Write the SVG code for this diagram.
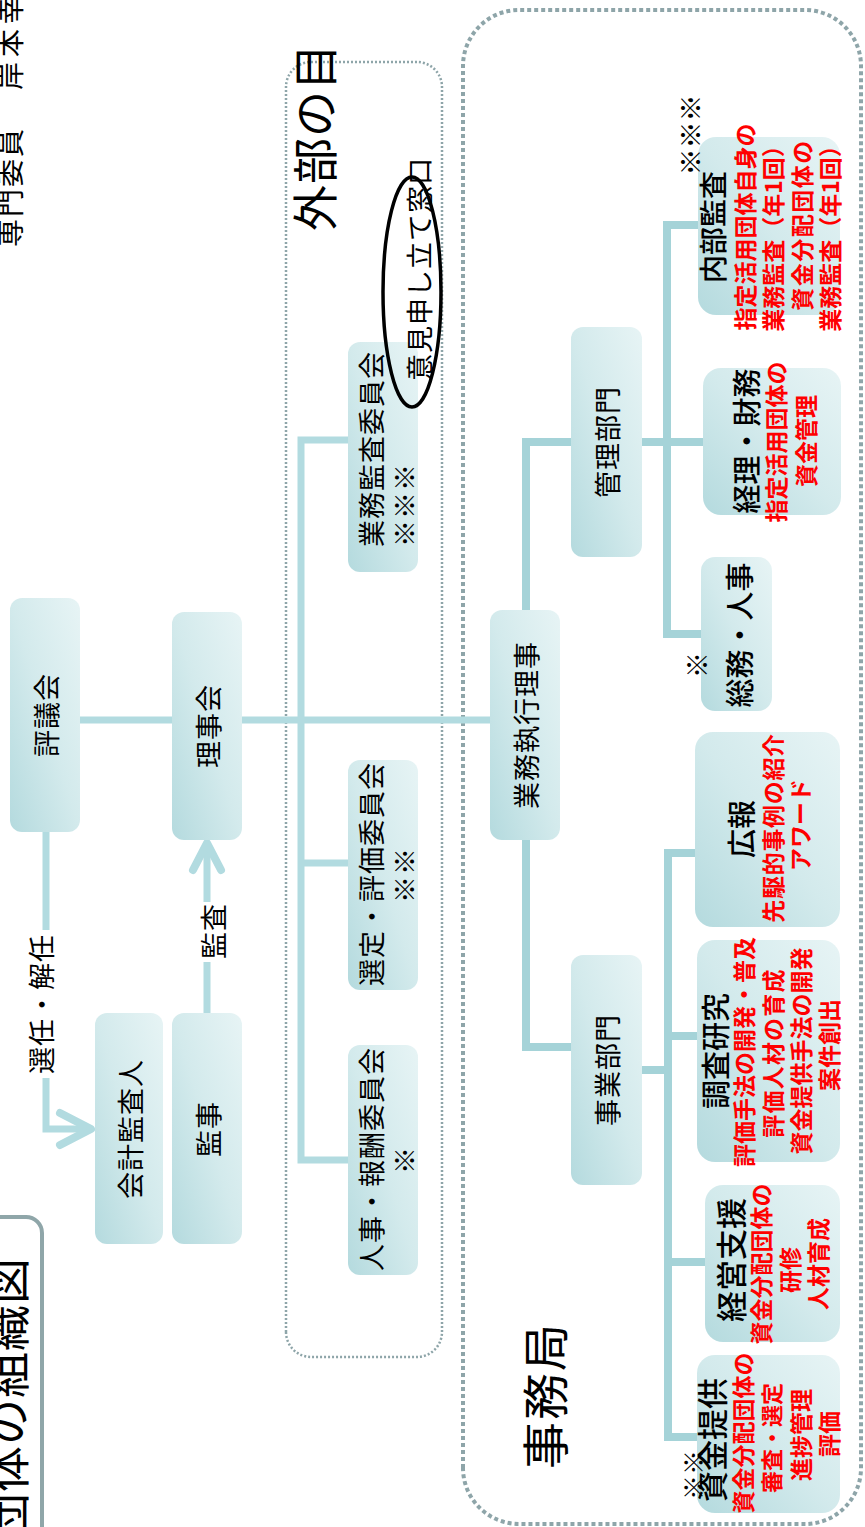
<svg xmlns="http://www.w3.org/2000/svg" width="865" height="1527" viewBox="0 0 865 1527">
<style>
text{font-family:"Noto Sans CJK JP","Noto Sans",sans-serif;dominant-baseline:central;fill:#000}
.n{font-size:27px;text-anchor:middle;letter-spacing:1px}
.s{text-anchor:start}
.h{font-size:29px;text-anchor:middle;font-weight:500}
.r{font-size:23px;text-anchor:middle;fill:#ff0000;font-weight:700}
.box{fill:url(#g);stroke:none}
.c1{fill:none;stroke:#b2dbe0;stroke-width:7}
.c2{fill:none;stroke:#a5d3d8;stroke-width:8}
.ar{fill:none;stroke:#b2dbe0;stroke-width:8;stroke-linecap:round;stroke-linejoin:round}
</style>
<defs>
<linearGradient id="g" x1="0" y1="0" x2="1" y2="1">
<stop offset="0" stop-color="#b4dade"/>
<stop offset="0.5" stop-color="#d3eaec"/>
<stop offset="1" stop-color="#e7f4f5"/>
</linearGradient>
</defs>
<g transform="translate(0,1527) rotate(-90)">
<g id="frames">
<path d="M0 42 H294 A16 16 0 0 0 310 26 V-5" fill="none" stroke="#8fa6a9" stroke-width="4"/>
<text x="270" y="4" style="font-size:46px;text-anchor:end" letter-spacing="1">団体の組織図</text>
<text x="1280" y="9" style="font-size:28px" letter-spacing="2">専門委員</text>
<text x="1437" y="9" style="font-size:28px" letter-spacing="5">岸本幸</text>
<rect x="3" y="463" width="1514" height="398" rx="56" fill="none" stroke="#8ea5a9" stroke-width="4" stroke-dasharray="4 3"/>
<rect x="170" y="286" width="1295" height="156" rx="25" fill="none" stroke="#8ea5a9" stroke-width="2.5" stroke-dasharray="2 2"/>
<text x="1296" y="312" style="font-size:46px" letter-spacing="1">外部の目</text>
<text x="58" y="542" style="font-size:47px" letter-spacing="2">事務局</text>
</g>
<g id="connectors">
<path class="c1" d="M807 80 V490"/>
<path class="c1" d="M1087 348 V301 H367 V348 M664 301 V348"/>
<path class="c2" d="M917 526 H1085 V572"/>
<path class="c2" d="M687 526 H480 V572"/>
<path class="c2" d="M1085 642 V704 M1302 698 V667 H893 V703"/>
<path class="c2" d="M457 642 V668 M674 696 V668 H90 V697 M491 668 V698 M265 668 V706"/>
<path class="c1" d="M695 46 H398 V88"/>
<path class="ar" d="M382 60 L398 91 L414 60"/>
<path class="c1" d="M514 207 H680"/>
<path class="ar" d="M657 193 L684 207 L657 221"/>
<rect x="449" y="40" width="148" height="13" fill="#fff"/>
<text class="n" x="523" y="40" letter-spacing="2">選任・解任</text>
<rect x="565" y="201" width="60" height="13" fill="#fff"/>
<text class="n" x="596" y="212">監査</text>
</g>
<g id="hyogikai"><rect class="box" x="695" y="10" width="234" height="70" rx="12"/><text class="n" x="812" y="45">評議会</text></g>
<g id="rijikai"><rect class="box" x="687" y="172" width="228" height="70" rx="12"/><text class="n" x="801" y="207">理事会</text></g>
<g id="kaikei-kansanin"><rect class="box" x="283" y="95" width="231" height="68" rx="12"/><text class="n" x="398" y="129">会計監査人</text></g>
<g id="kanji"><rect class="box" x="283" y="172" width="231" height="70" rx="12"/><text class="n" x="398" y="207">監事</text></g>
<g id="gyomu-kansa-iinkai"><rect class="box" x="955" y="348" width="230" height="70" rx="12"/><text class="n s" x="980" y="370">業務監査委員会</text><text class="n s" x="980" y="403">※※※</text></g>
<g id="sentei-iinkai"><rect class="box" x="537" y="348" width="230" height="70" rx="12"/><text class="n" x="653" y="370">選定・評価委員会</text><text class="n" x="652" y="403">※※</text></g>
<g id="jinji-iinkai"><rect class="box" x="252" y="348" width="230" height="70" rx="12"/><text class="n" x="368" y="370">人事・報酬委員会</text><text class="n" x="367" y="403">※</text></g>
<g id="iken"><ellipse cx="1235" cy="412" rx="115" ry="29" fill="none" stroke="#000" stroke-width="3.5"/><text class="n" x="1258" y="418" letter-spacing="3">意見申し立て窓口</text></g>
<g id="gyomu-shikko"><rect class="box" x="687" y="490" width="230" height="70" rx="12"/><text class="n" x="802" y="525">業務執行理事</text></g>
<g id="kanri-bumon"><rect class="box" x="970" y="571" width="230" height="71" rx="12"/><text class="n" x="1085" y="606">管理部門</text></g>
<g id="jigyo-bumon"><rect class="box" x="342" y="571" width="230" height="71" rx="12"/><text class="n" x="457" y="606">事業部門</text></g>
<g id="naibu-kansa"><rect class="box" x="1212" y="698" width="178" height="142" rx="18"/>
<text class="h" x="1392" y="689" style="font-size:27px">※※※</text>
<text class="h" x="1300" y="712" style="font-size:28px">内部監査</text>
<text class="r" x="1300" y="744">指定活用団体自身の</text>
<text class="r" x="1294" y="772">業務監査（年1回）</text>
<text class="r" x="1302" y="801" letter-spacing="1.5">資金分配団体の</text>
<text class="r" x="1294" y="829">業務監査（年1回）</text></g>
<g id="keiri-zaimu"><rect class="box" x="1012" y="703" width="147" height="138" rx="18"/>
<text class="h" x="1086" y="745">経理・財務</text>
<text class="r" x="1085" y="775">指定活用団体の</text>
<text class="r" x="1086" y="805">資金管理</text></g>
<g id="somu-jinji"><rect class="box" x="816" y="701" width="154" height="71" rx="14"/>
<text class="h" x="892" y="738">総務・人事</text>
<text class="h" x="862" y="695" style="font-size:26px">※</text></g>
<g id="koho"><rect class="box" x="600" y="695" width="195" height="145" rx="18"/>
<text class="h" x="698" y="740">広報</text>
<text class="r" x="699" y="772" letter-spacing="0.7">先駆的事例の紹介</text>
<text class="r" x="702" y="799">アワード</text></g>
<g id="chosa-kenkyu"><rect class="box" x="365" y="697" width="222" height="143" rx="18"/>
<text class="h" x="476" y="714">調査研究</text>
<text class="r" x="475" y="743">評価手法の開発・普及</text>
<text class="r" x="474" y="772" letter-spacing="1.2">評価人材の育成</text>
<text class="r" x="476" y="800">資金提供手法の開発</text>
<text class="r" x="482" y="828">案件創出</text></g>
<g id="keiei-shien"><rect class="box" x="185" y="705" width="157" height="135" rx="18"/>
<text class="h" x="267" y="729" style="font-size:31px">経営支援</text>
<text class="r" x="263" y="760">資金分配団体の</text>
<text class="r" x="257" y="789">研修</text>
<text class="r" x="263" y="817">人材育成</text></g>
<g id="shikin-teikyo"><rect class="box" x="14" y="697" width="158" height="143" rx="18"/>
<text class="h" x="87" y="710" style="font-size:31px">資金提供</text>
<text class="h" x="52" y="692" style="font-size:25px">※※</text>
<text class="r" x="94" y="742">資金分配団体の</text>
<text class="r" x="89" y="770" style="font-size:22px">審査・選定</text>
<text class="r" x="92" y="800">進捗管理</text>
<text class="r" x="93" y="828">評価</text></g>
</g>
</svg>
